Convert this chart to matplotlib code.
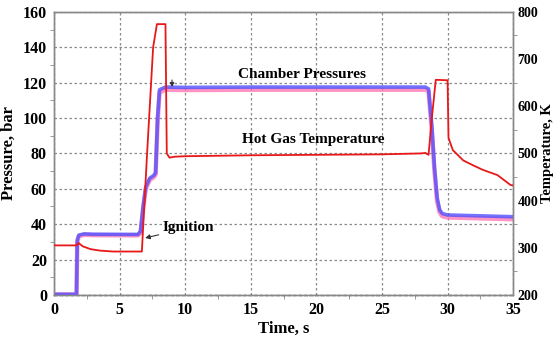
import matplotlib
matplotlib.use("Agg")
import matplotlib.pyplot as plt
from matplotlib.ticker import MultipleLocator

# ---- data ----
time_p = [0, 1.72, 1.78, 1.9, 2.3, 3.0, 6.4, 6.6, 6.8, 7.0, 7.3, 7.6, 7.75, 7.9, 8.05, 8.5,
          10, 15, 20, 25, 28.3, 28.55, 28.8, 29.0, 29.2, 29.4, 29.6, 30, 32, 35]
p_blue = [0.3, 0.3, 31, 33.8, 34.5, 34.3, 34.2, 36, 50, 61, 66, 67.5, 69, 100, 116, 117.5,
          117.3, 117.5, 117.5, 117.5, 117.5, 116.5, 95, 72, 55, 48, 46, 45.2, 44.8, 44.2]
p_pink = [0.3, 0.3, 30, 33.2, 34.0, 33.8, 33.7, 35, 49, 60, 65, 66.5, 68, 98, 114.5, 116,
          115.8, 116, 116, 116, 116, 115, 93, 70, 53, 46.5, 44.5, 43.8, 43.4, 42.8]

time_t = [0, 1.72, 1.88, 2.2, 2.8, 3.5, 4.5, 6.7, 7.1, 7.56, 7.85, 8.5, 8.6, 8.8, 9.2, 10,
          15, 20, 25, 28.0, 28.3, 28.55, 28.8, 29.1, 30.0, 30.07, 30.4, 31.2, 32.0, 32.7,
          33.8, 34.8, 35]
temp_k = [305, 305, 310, 303, 297, 294, 292, 292, 500, 725, 774, 774, 500, 491, 493, 494,
          496, 497, 498, 500, 501, 497, 575, 656, 655, 533, 507, 485, 474, 465,
          454, 433, 432]

x_ticks = [0, 5, 10, 15, 20, 25, 30, 35]
p_ticks = [0, 20, 40, 60, 80, 100, 120, 140, 160]
t_ticks = [200, 300, 400, 500, 600, 700, 800]

serif = ["Liberation Serif", "DejaVu Serif"]
plt.rcParams['font.family'] = serif
plt.rcParams['font.weight'] = 'bold'

fig = plt.figure(figsize=(5.56, 3.39), dpi=100)
ax = fig.add_axes([0.097, 0.130, 0.826, 0.835])
ax2 = ax.twinx()

ax.set_xlim(0, 35)
ax.set_ylim(0, 160)
ax2.set_ylim(200, 800)

ax.set_xticks(x_ticks)
ax.set_yticks(p_ticks)
ax2.set_yticks(t_ticks)
ax.xaxis.set_minor_locator(MultipleLocator(2.5))
ax.yaxis.set_minor_locator(MultipleLocator(10))
ax2.yaxis.set_minor_locator(MultipleLocator(50))

ax.grid(True, which='major', color='#8a8a8a', linestyle=(0, (2, 2)), linewidth=0.9)
ax.set_axisbelow(True)

for a in (ax, ax2):
    for s in a.spines.values():
        s.set_color('#888888')
        s.set_linewidth(1.0)
ax.spines['bottom'].set_color('#222222')
ax.spines['bottom'].set_linestyle((0, (2, 2)))

ax.tick_params(axis='both', which='major', direction='in', length=0, labelsize=11.5, pad=5)
ax.tick_params(axis='both', which='minor', direction='out', length=3, color='#888888')
ax2.tick_params(axis='y', which='major', direction='in', length=0, labelsize=10, pad=3)
ax2.tick_params(axis='y', which='minor', direction='out', length=3, color='#888888')
for lab in ax.get_xticklabels() + ax.get_yticklabels() + ax2.get_yticklabels():
    lab.set_fontweight('bold')

ax.plot(time_p, p_pink, color='#ff6fb0', lw=3.2, alpha=0.75, zorder=3)
ax.plot(time_p, p_blue, color='#5050ff', lw=2.6, alpha=0.8, zorder=4)
ax2.plot(time_t, temp_k, color='#e81818', lw=1.3, zorder=5)

ax.set_xlabel("Time, s", fontsize=12, fontweight='bold', labelpad=2)
ax.set_ylabel("Pressure, bar", fontsize=12, fontweight='bold', labelpad=4)
ax2.set_ylabel("Temperature, K", fontsize=10.5, fontweight='bold')
ax2.yaxis.set_label_coords(1.061, 0.5)

ax.text(14.0, 124.5, "Chamber Pressures", fontsize=11, fontweight='bold', va='center', ha='left', zorder=6)
ax.text(14.3, 87.6, "Hot Gas Temperature", fontsize=11, fontweight='bold', va='center', ha='left', zorder=6)
ax.annotate("Ignition", xy=(6.95, 32.2), xytext=(8.3, 37.9), fontsize=11, fontweight='bold',
            va='center', ha='left',
            arrowprops=dict(arrowstyle='-|>', color='#333333', lw=0.8, mutation_scale=7,
                            shrinkA=1, shrinkB=0), zorder=6)
ax.annotate("", xy=(9.0, 117.5), xytext=(9.0, 121.5),
            arrowprops=dict(arrowstyle='-|>', color='#333333', lw=0.8, mutation_scale=6,
                            shrinkA=0, shrinkB=0), zorder=6)

fig.savefig("out.png", dpi=100)
